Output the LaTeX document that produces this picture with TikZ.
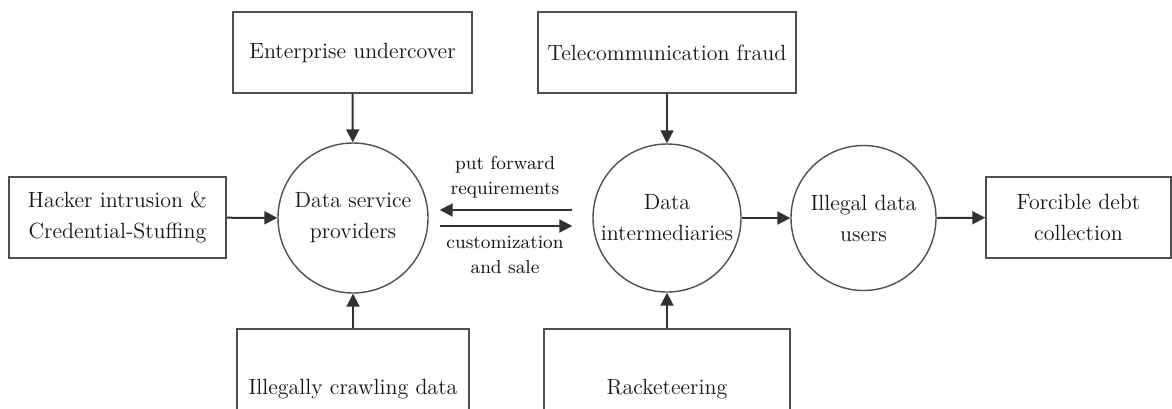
\documentclass[tikz,border=0pt]{standalone}
\usepackage{fontspec}
\usetikzlibrary{arrows.meta}
\definecolor{edgecol}{RGB}{80,80,80}
\definecolor{arrcol}{RGB}{50,50,50}
\definecolor{txtcol}{RGB}{20,20,20}
\begin{document}
\begin{tikzpicture}[x=0.5pt,y=-0.5pt,
  box/.style={draw=edgecol,line width=0.75pt,inner sep=0pt,align=center,text=txtcol,
    minimum height=40.5pt,font=\fontsize{11}{15.5}\selectfont},
  circ/.style={circle,draw=edgecol,line width=0.7pt,inner sep=0pt,align=center,text=txtcol,
    font=\fontsize{11}{15.5}\selectfont},
  arr/.style={draw=arrcol,line width=1pt,-{Triangle[length=6.5pt,width=6.5pt]}},
  lab/.style={align=center,text=txtcol,inner sep=0pt,font=\fontsize{9.4}{12.5}\selectfont}]
\useasboundingbox (0,0) rectangle (1172,408);
% circles
\node[circ,minimum size=75pt] (dsp) at (353,218) {Data service\\providers};
\node[circ,minimum size=74pt] (di) at (667,218) {Data\\intermediaries};
\node[circ,minimum size=72.5pt] (idu) at (863.5,218) {Illegal data\\users};
% boxes
\node[box,minimum width=119.5pt] (ent) at (352.5,52.5) {Enterprise undercover};
\node[box,minimum width=129pt] (tel) at (667,52.5) {Telecommunication fraud};
\node[box,minimum width=108.5pt] (hack) at (117.5,217.5) {Hacker intrusion \&\\Credential-Stuffing};
\node[box,minimum width=92.5pt] (force) at (1078.5,217.5) {Forcible debt\\collection};
\node[box,minimum width=116pt,minimum height=60pt] (crawl) at (353,389) {Illegally crawling data};
\node[box,minimum width=123pt,minimum height=60pt] (rack) at (667,389) {Racketeering};
% arrows
\draw[arr] (ent) -- (dsp);
\draw[arr] (tel) -- (di);
\draw[arr] (hack) -- (dsp);
\draw[arr] (crawl.north) -- (dsp.south);
\draw[arr] (rack.north) -- (di.south);
\draw[arr] (di) -- (idu);
\draw[arr] (idu) -- (force);
\coordinate (ua) at ([xshift=-10pt,yshift=4pt]di.west);
\coordinate (ub) at ([xshift=5.5pt,yshift=4pt]dsp.east);
\coordinate (la) at ([xshift=5.5pt,yshift=-4pt]dsp.east);
\coordinate (lb) at ([xshift=-10pt,yshift=-4pt]di.west);
\draw[arr] (ua) -- (ub);
\draw[arr] (la) -- (lb);
\node[lab] (l1) at (505,177.5) {put forward\\requirements};
\node[lab] (l2) at (505,255) {customization\\and sale};
\end{tikzpicture}
\end{document}
